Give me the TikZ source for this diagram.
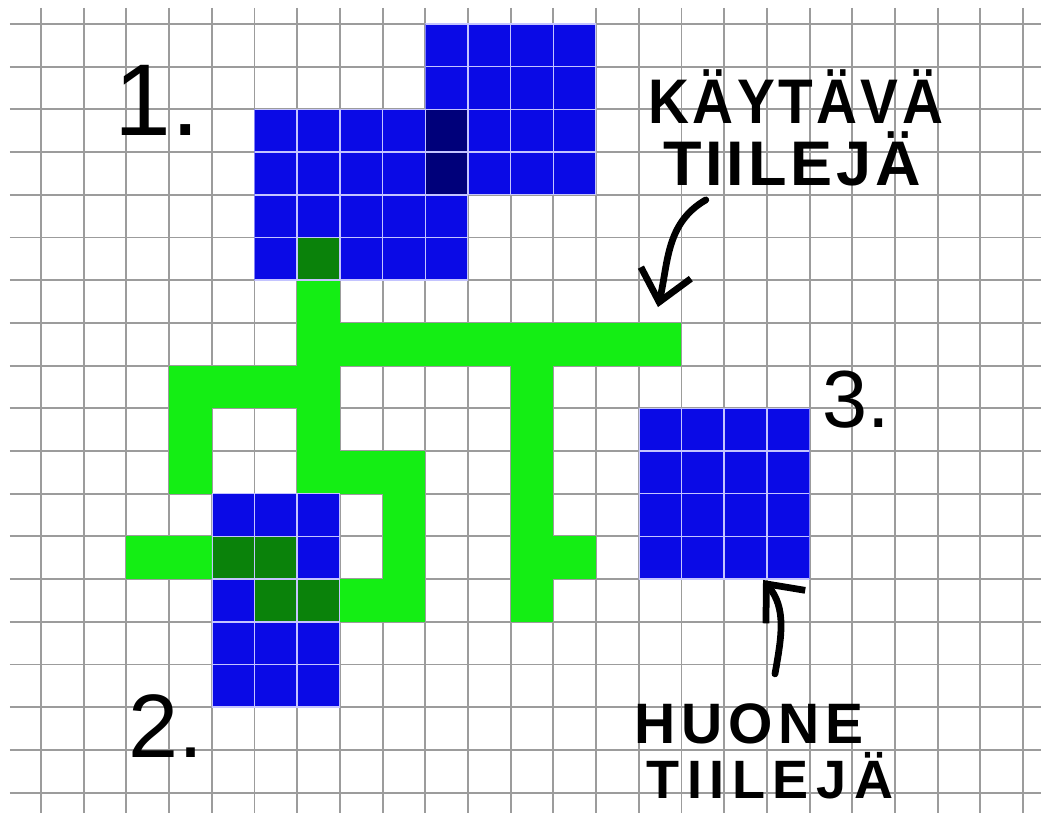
\documentclass[tikz,border=0pt]{standalone}
\usepackage{fontspec}
\setmainfont{Liberation Sans}
\newfontfamily\handfont[LetterSpace=6]{Liberation Sans}
\newfontfamily\handfontwide[LetterSpace=10]{Liberation Sans}
\newfontfamily\handfontwider[LetterSpace=14]{Liberation Sans}
\usepackage{tikz}
\usetikzlibrary{arrows.meta,calc}
\definecolor{Grid}{HTML}{9C9C9C}
\definecolor{Room}{HTML}{0A0AE6}
\definecolor{RoomDark}{HTML}{00007A}
\definecolor{Hall}{HTML}{14EE14}
\definecolor{HallDark}{HTML}{0A820A}
\definecolor{Seam}{HTML}{C4C4FF}
\tikzset{
 gridline/.style={draw=Grid,line width=1.3pt},
 seam/.style={draw=Seam,line width=1pt},
 hall/.style={fill=Hall},
 halldark/.style={fill=HallDark},
 room/.style={fill=Room},
 roomdark/.style={fill=RoomDark},
 numtag/.style={anchor=base,inner sep=0pt,font=\fontsize{60}{60}\selectfont},
 wordtag/.style={anchor=base,inner sep=0pt,font=\fontsize{42}{42}\selectfont\handfont\bfseries},
 widetag/.style={anchor=base,inner sep=0pt,font=\fontsize{38}{38}\selectfont\handfontwide\bfseries},
 pen/.style={line width=4.5pt,line cap=round,-{Straight Barb[length=7mm,width=12mm]}}
}
\begin{document}
\begin{tikzpicture}[x=1cm,y=-1cm]
\useasboundingbox (-0.96,-0.562) rectangle (23.42,18.48);
\fill[white] (-0.96,-0.562) rectangle (23.42,18.48);
\foreach \i in {0,...,23} \draw[gridline] (\i,-0.375) -- (\i,18.48);
\foreach \j in {0,...,18} \draw[gridline] (-0.726,\j) -- (23.42,\j);
\foreach \c/\r in {6/6,6/7,6/8,6/9,6/10,7/7,8/7,9/7,10/7,11/7,12/7,13/7,14/7,
  3/8,4/8,5/8,3/9,3/10,7/10,8/10,8/11,8/12,8/13,7/13,
  11/8,11/9,11/10,11/11,11/12,11/13,12/12,2/12,3/12}
  \fill[hall] (\c,\r) rectangle ++(1,1);
\fill[room] (9,0) rectangle (13,4);
\fill[room] (5,2) rectangle (10,6);
\fill[room] (4,11) rectangle (7,16);
\fill[room] (14,9) rectangle (18,13);
\fill[roomdark] (9,2) rectangle (10,4);
\foreach \c/\r in {6/5,4/12,5/12,5/13,6/13}
  \fill[halldark] (\c,\r) rectangle ++(1,1);
\foreach \a/\b/\c/\d in {9/0/13/4,5/2/10/6,4/11/7/16,14/9/18/13}{
  \begin{scope}
  \clip (\a,\b) rectangle (\c,\d);
  \draw[seam] (\a,\b) grid (\c,\d);
  \end{scope}
}
\node[numtag,font=\fontsize{68}{68}\selectfont] (one) at (2.72,2.6) {1.};
\node[numtag] (two) at (2.93,17.17) {2.};
\node[numtag,font=\fontsize{54}{54}\selectfont] (three) at (19.09,9.46) {3.};
\node[wordtag,xscale=0.9,transform shape] (kaytava) at (17.68,2.34) {KÄYTÄVÄ};
\node[wordtag] (kaytavaTiles) at (17.59,3.79) {TIILEJÄ};
\node[widetag] (huone) at (16.58,16.86) {HUONE};
\node[widetag,font=\fontsize{36}{36}\selectfont\handfontwider\bfseries] (huoneTiles) at (17.07,18.15) {TIILEJÄ};
\coordinate (hallTip) at (14.45,6.63);
\coordinate (roomTip) at (16.91,13.02);
\draw[pen] ($(kaytavaTiles.base west)+(1.0,0.33)$) to[out=210,in=77] (hallTip);
\draw[pen] ($(huone.north)+(0.61,-0.7)$) to[out=80,in=-50] (roomTip);
\end{tikzpicture}
\end{document}
